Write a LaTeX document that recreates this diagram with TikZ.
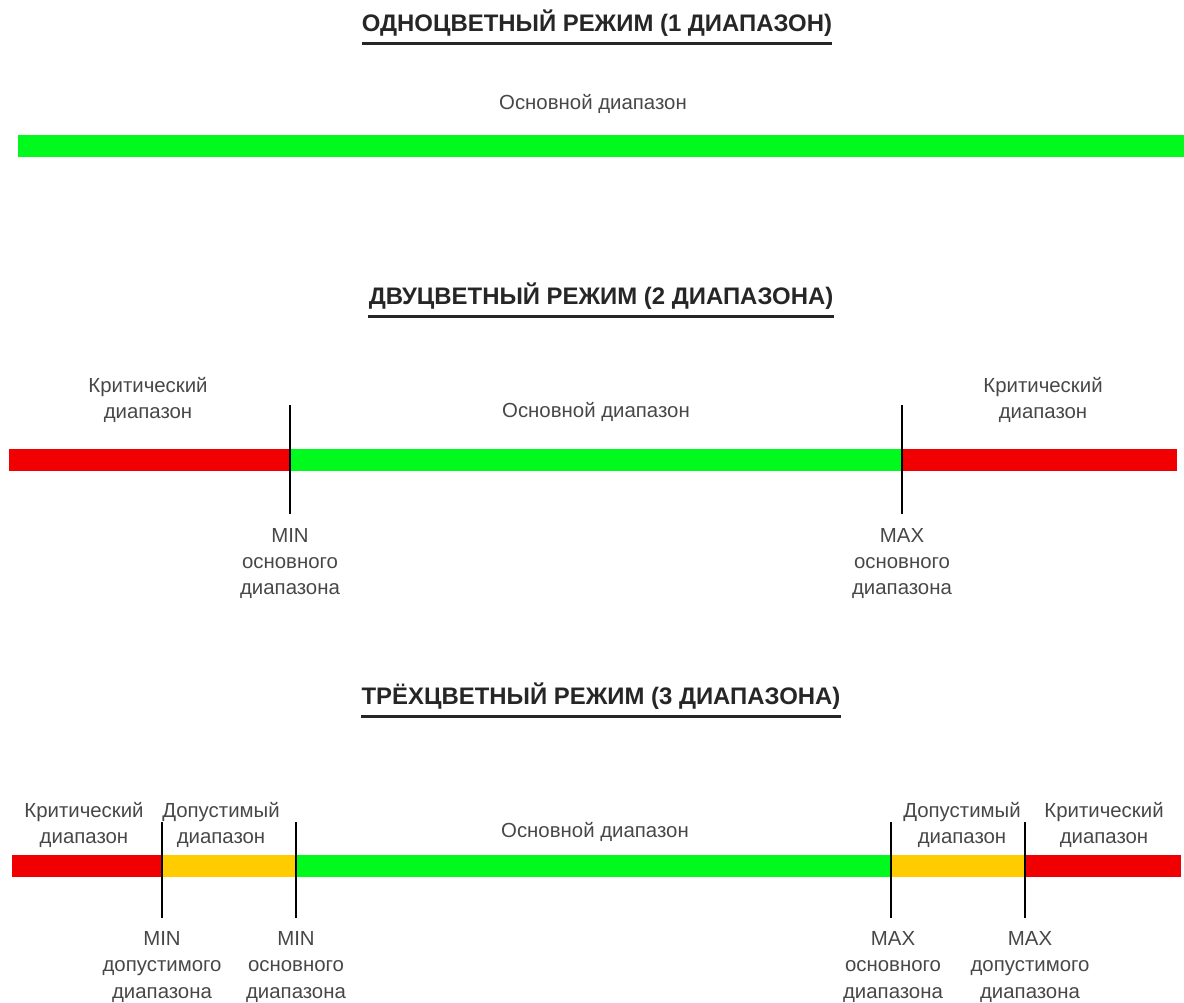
\documentclass[tikz,border=0pt]{standalone}
\usepackage{fontspec}
\setmainfont{Liberation Sans}
\usetikzlibrary{positioning}

\definecolor{bandgreen}{RGB}{0,250,30}
\definecolor{bandred}{RGB}{240,0,0}
\definecolor{bandyellow}{RGB}{255,204,0}

\tikzset{
	heading/.style={font=\fontsize{17}{20}\selectfont\bfseries,text=black!85,inner sep=0pt},
	rangelabel/.style={font=\fontsize{14.5}{18.5}\selectfont,text=black!72,align=center,inner sep=0pt},
	band/.style={line width=15pt},
	marker/.style={line width=2pt,black},
	underline/.style={line width=2.6pt,black!85}
}

\begin{document}
\begin{tikzpicture}[x=.025cm,y=-.025cm]
	\useasboundingbox (0,0) rectangle (1184,1003);

	%%% one range
	\node[heading] (title1) at (597,23) {ОДНОЦВЕТНЫЙ РЕЖИМ (1 ДИАПАЗОН)};
	\draw[underline] ([yshift=-5pt]title1.south west) -- ([yshift=-5pt]title1.south east);

	\node[rangelabel] (main1) at (593,104) {Основной диапазон};

	\coordinate (l1) at (18,146);
	\coordinate (r1) at (1184,146);
	\draw[band,bandgreen] (l1) -- (r1);

	%%% two ranges
	\node[heading] (title2) at (601,296) {ДВУЦВЕТНЫЙ РЕЖИМ (2 ДИАПАЗОНА)};
	\draw[underline] ([yshift=-5pt]title2.south west) -- ([yshift=-5pt]title2.south east);

	\coordinate (l2) at (9,460);
	\coordinate (a2) at (290,460);
	\coordinate (b2) at (902,460);
	\coordinate (r2) at (1177,460);
	\draw[band,bandred] (l2) -- (a2);
	\draw[band,bandgreen] (a2) -- (b2);
	\draw[band,bandred] (b2) -- (r2);

	\coordinate (a2top) at (290,405);
	\coordinate (a2bot) at (290,514);
	\coordinate (b2top) at (902,405);
	\coordinate (b2bot) at (902,514);
	\draw[marker] (a2top) -- (a2bot);
	\draw[marker] (b2top) -- (b2bot);

	\node[rangelabel] (crit2l) at (148,400) {Критический\\ диапазон};
	\node[rangelabel] (main2) at (596,412) {Основной диапазон};
	\node[rangelabel] (crit2r) at (1043,400) {Критический\\ диапазон};

	\node[rangelabel] (min2) at (290,564) {MIN\\ основного\\ диапазона};
	\node[rangelabel] (max2) at (902,564) {MAX\\ основного\\ диапазона};

	%%% three ranges
	\node[heading] (title3) at (601,696) {ТРЁХЦВЕТНЫЙ РЕЖИМ (3 ДИАПАЗОНА)};
	\draw[underline] ([yshift=-5pt]title3.south west) -- ([yshift=-5pt]title3.south east);

	\coordinate (l3) at (12,866);
	\coordinate (a3) at (162,866);
	\coordinate (b3) at (296,866);
	\coordinate (c3) at (891,866);
	\coordinate (d3) at (1025,866);
	\coordinate (r3) at (1181,866);
	\draw[band,bandred] (l3) -- (a3);
	\draw[band,bandyellow] (a3) -- (b3);
	\draw[band,bandgreen] (b3) -- (c3);
	\draw[band,bandyellow] (c3) -- (d3);
	\draw[band,bandred] (d3) -- (r3);

	\coordinate (a3top) at (162,822);
	\coordinate (a3bot) at (162,918);
	\coordinate (b3top) at (296,822);
	\coordinate (b3bot) at (296,918);
	\coordinate (c3top) at (891,822);
	\coordinate (c3bot) at (891,918);
	\coordinate (d3top) at (1025,822);
	\coordinate (d3bot) at (1025,918);
	\draw[marker] (a3top) -- (a3bot);
	\draw[marker] (b3top) -- (b3bot);
	\draw[marker] (c3top) -- (c3bot);
	\draw[marker] (d3top) -- (d3bot);

	\node[rangelabel] (crit3l) at (84,825) {Критический\\ диапазон};
	\node[rangelabel] (adm3l) at (221,825) {Допустимый\\ диапазон};
	\node[rangelabel] (main3) at (595,832) {Основной диапазон};
	\node[rangelabel] (adm3r) at (962,825) {Допустимый\\ диапазон};
	\node[rangelabel] (crit3r) at (1104,825) {Критический\\ диапазон};

	\node[rangelabel] (min3a) at (162,967) {MIN\\ допустимого\\ диапазона};
	\node[rangelabel] (min3b) at (296,967) {MIN\\ основного\\ диапазона};
	\node[rangelabel] (max3a) at (893,967) {MAX\\ основного\\ диапазона};
	\node[rangelabel] (max3b) at (1030,967) {MAX\\ допустимого\\ диапазона};

\end{tikzpicture}
\end{document}
